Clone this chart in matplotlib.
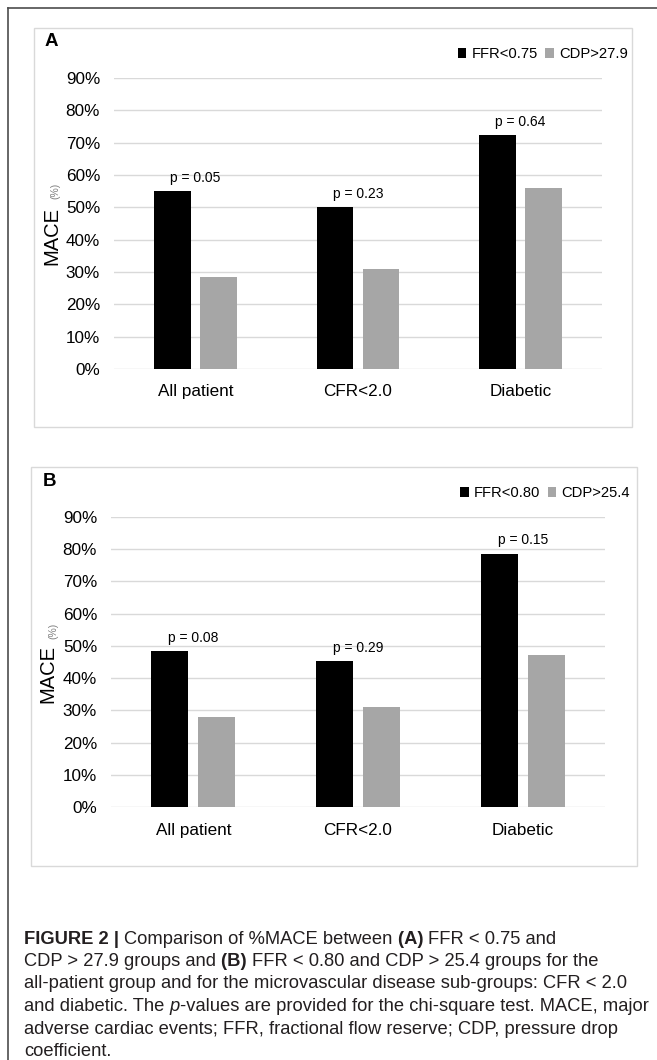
import numpy as np
import matplotlib
matplotlib.use("Agg")
import matplotlib.pyplot as plt
from matplotlib.ticker import PercentFormatter
from matplotlib.patches import Rectangle
from matplotlib.lines import Line2D

plt.rcParams['font.family'] = ['Liberation Sans', 'DejaVu Sans']

# ---------------- data ----------------
categories = ["All patient", "CFR<2.0", "Diabetic"]

a_ffr_label = "FFR<0.75"
a_cdp_label = "CDP>27.9"
a_ffr = [55.0, 50.0, 72.5]
a_cdp = [28.5, 30.8, 56.0]
a_p = ["p = 0.05", "p = 0.23", "p = 0.64"]

b_ffr_label = "FFR<0.80"
b_cdp_label = "CDP>25.4"
b_ffr = [48.3, 45.3, 78.6]
b_cdp = [28.0, 31.0, 47.2]
b_p = ["p = 0.08", "p = 0.29", "p = 0.15"]

yticks = [0, 10, 20, 30, 40, 50, 60, 70, 80, 90]

# ---------------- layout helpers ----------------
W, H = 657, 1060
fig = plt.figure(figsize=(W / 100, H / 100), dpi=100)
fig.patch.set_facecolor('white')


def fx(px):
    return px / W


def fy(py):
    return 1 - py / H


def rect_ax(x0, y0, x1, y1):
    return [fx(x0), fy(y1), fx(x1) - fx(x0), fy(y0) - fy(y1)]


# outer frame (left + top edge visible)
fig.add_artist(Line2D([fx(8), fx(8)], [fy(8), fy(H + 5)], color='#4d4d4d', lw=1.2,
                      transform=fig.transFigure))
fig.add_artist(Line2D([fx(8), fx(W + 5)], [fy(8), fy(8)], color='#4d4d4d', lw=1.2,
                      transform=fig.transFigure))

# panel boxes
for (x0, y0, x1, y1) in [(34, 28, 632, 427), (31, 467, 637, 866)]:
    fig.add_artist(Rectangle((fx(x0), fy(y1)), fx(x1) - fx(x0), fy(y0) - fy(y1),
                             transform=fig.transFigure, fill=False,
                             edgecolor='#d9d9d9', lw=1.0))

BLACK = '#000000'
GRAY = '#a6a6a6'
GRID = '#d9d9d9'


def panel(axpos, ffr, cdp, pvals, lab_ffr, lab_cdp, letter_xy, letter,
          mace_xy, pct_xy, legend_xy):
    ax = fig.add_axes(axpos)
    x = np.arange(len(categories))
    bw = 0.225
    off = 0.142
    b1 = ax.bar(x - off, ffr, bw, color=BLACK, label=lab_ffr, zorder=3)
    b2 = ax.bar(x + off, cdp, bw, color=GRAY, label=lab_cdp, zorder=3)
    ax.set_xlim(-0.5, len(categories) - 0.5)
    ax.set_ylim(0, 90)
    ax.set_yticks(yticks)
    ax.yaxis.set_major_formatter(PercentFormatter(xmax=100, decimals=0))
    ax.set_xticks(x)
    ax.set_xticklabels(categories)
    ax.tick_params(axis='both', length=0, labelsize=12.3, colors='#000000')
    ax.tick_params(axis='y', pad=10)
    ax.tick_params(axis='x', pad=11)
    ax.yaxis.grid(True, color=GRID, lw=1.0, zorder=0)
    ax.set_axisbelow(True)
    for s in ax.spines.values():
        s.set_visible(False)
    ax.patch.set_alpha(0)
    for i, (v, t) in enumerate(zip(ffr, pvals)):
        ax.annotate(t, xy=(i, v), xytext=(0, 6.5), textcoords='offset points',
                    ha='center', va='baseline', fontsize=10, color='#000000')
    fig.text(fx(letter_xy[0]), fy(letter_xy[1]), letter, fontsize=13.5,
             fontweight='bold', ha='center', va='center')
    fig.text(fx(mace_xy[0]), fy(mace_xy[1]), "MACE", fontsize=14.5, rotation=90,
             ha='center', va='center')
    fig.text(fx(pct_xy[0]), fy(pct_xy[1]), "(%)", fontsize=7.5, rotation=90,
             ha='center', va='center', color='#808080')
    ax.legend(handles=[b1, b2], loc='center right',
              bbox_to_anchor=(fx(legend_xy[0]), fy(legend_xy[1])),
              bbox_transform=fig.transFigure, ncol=2, frameon=False,
              fontsize=10.6, handlelength=0.6, handleheight=0.65,
              handletextpad=0.35, columnspacing=0.5, borderpad=0,
              borderaxespad=0)
    return ax


panel(rect_ax(114, 78, 602, 369), a_ffr, a_cdp, a_p, a_ffr_label, a_cdp_label,
      (51, 41), "A", (52, 236), (55, 191), (628, 54))
panel(rect_ax(111, 516.7, 605, 807.3), b_ffr, b_cdp, b_p, b_ffr_label, b_cdp_label,
      (50, 481), "B", (48, 674), (53, 631), (630, 493))

# ---------------- caption ----------------
renderer = fig.canvas.get_renderer()
CAP_COLOR = '#231f20'
N = dict()
BOLD = dict(fontweight='bold')
IT = dict(fontstyle='italic')

cap_lines = [
    [("FIGURE 2 | ", BOLD), ("Comparison of %MACE between ", N), ("(A) ", BOLD),
     ("FFR < 0.75 and", N)],
    [("CDP > 27.9 groups and ", N), ("(B) ", BOLD),
     ("FFR < 0.80 and CDP > 25.4 groups for the", N)],
    [("all-patient group and for the microvascular disease sub-groups: CFR < 2.0", N)],
    [("and diabetic. The ", N), ("p", IT),
     ("-values are provided for the chi-square test. MACE, major", N)],
    [("adverse cardiac events; FFR, fractional flow reserve; CDP, pressure drop", N)],
    [("coefficient.", N)],
]


def text_w(s, size, kw):
    t1 = fig.text(0, 0, s + "x", fontsize=size, **kw)
    t2 = fig.text(0, 0, "x", fontsize=size, **kw)
    w = t1.get_window_extent(renderer).width - t2.get_window_extent(renderer).width
    t1.remove()
    t2.remove()
    return w


# fit font size so the longest plain line spans the caption width
ref_line = cap_lines[2][0][0]
w12 = text_w(ref_line, 12, N)
cap_size = 12 * (603 / w12)

cap_x0 = 24
cap_base = [943.5, 966, 988.5, 1011, 1033.5, 1056]
for runs, yb in zip(cap_lines, cap_base):
    x = cap_x0
    for s, kw in runs:
        fig.text(fx(x), fy(yb), s, fontsize=cap_size, ha='left', va='baseline',
                 color=CAP_COLOR, **kw)
        x += text_w(s, cap_size, kw)

fig.savefig("out.png", dpi=100, facecolor='white')
